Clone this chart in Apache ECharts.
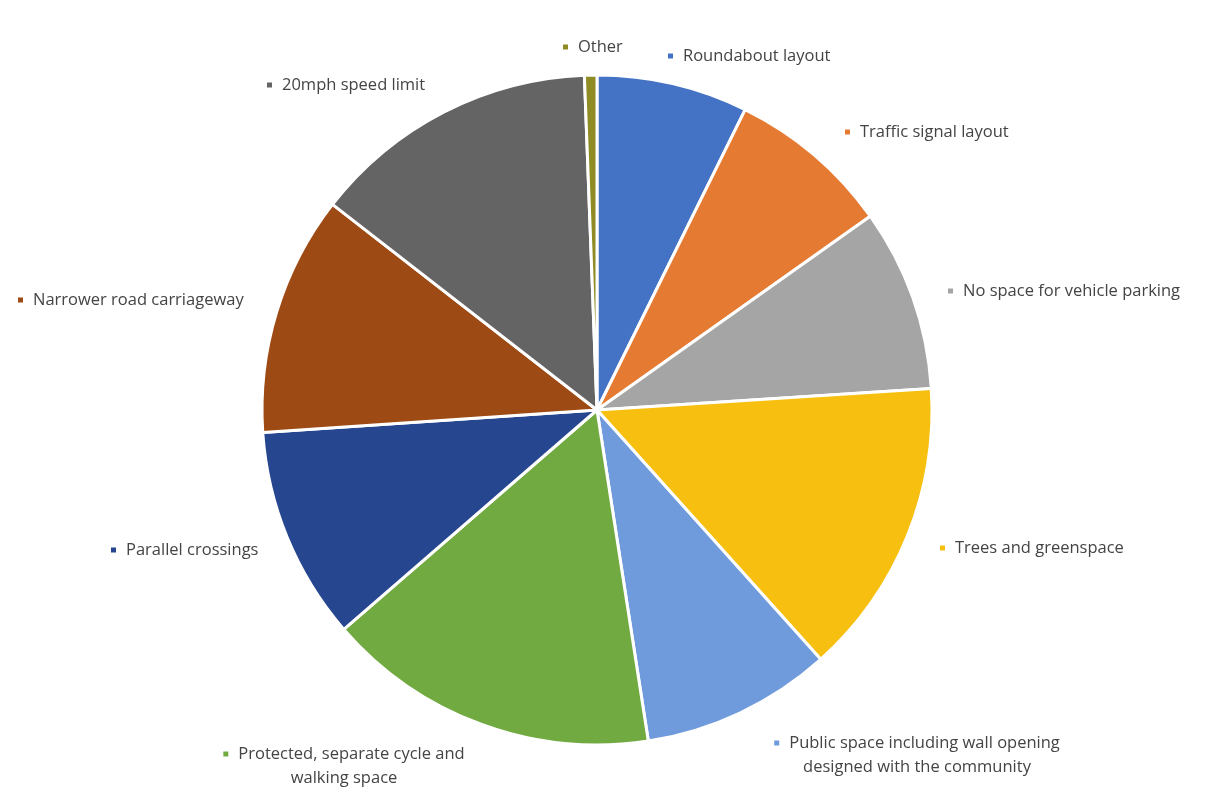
<!DOCTYPE html>
<html>
<head>
<meta charset="utf-8">
<style>
  html, body { margin: 0; padding: 0; background: #fff; }
  #chart { width: 1212px; height: 800px; }
</style>
<script src="https://cdn.jsdelivr.net/npm/echarts@6/dist/echarts.min.js"></script>
</head>
<body>
<div id="chart"></div>
<script>
// Street design features – share of responses
const categories = [
  'Roundabout layout',
  'Traffic signal layout',
  'No space for vehicle parking',
  'Trees and greenspace',
  'Public space including wall opening\ndesigned with the community',
  'Protected, separate cycle and\nwalking space',
  'Parallel crossings',
  'Narrower road carriageway',
  '20mph speed limit',
  'Other'
];
const shares = [7.3, 7.9, 8.8, 14.4, 9.2, 16.1, 10.3, 11.6, 13.9, 0.6];
const colors = [
  '#4472C4', '#E57B33', '#A5A5A5', '#F7C010', '#6F9BDC',
  '#72AA42', '#264790', '#9E4A14', '#646464', '#8F8C25'
];

// Label anchors (x, y, align) for each slice's callout
const labelSpots = [
  [668, 56, 'left'],
  [845, 132, 'left'],
  [948, 291, 'left'],
  [940, 548, 'left'],
  [917, 755, 'center'],
  [344, 766, 'center'],
  [111, 550, 'left'],
  [18, 300, 'left'],
  [267, 85, 'left'],
  [563, 47, 'left']
];

const rich = {};
colors.forEach((c, i) => {
  rich['m' + i] = { width: 5, height: 5, backgroundColor: c, align: labelSpots[i][2] };
  rich['t' + i] = {
    fontFamily: 'Open Sans', fontSize: 16.5, color: '#444', lineHeight: 24,
    align: labelSpots[i][2]
  };
});

const data = categories.map((name, i) => ({
  name: name,
  value: shares[i],
  itemStyle: { color: colors[i] }
}));

const chart = echarts.init(document.getElementById('chart'), null, { renderer: 'canvas' });
chart.setOption({
  backgroundColor: '#fff',
  animation: false,
  series: [{
    type: 'pie',
    center: [597, 410],
    radius: 335,
    startAngle: 90,
    clockwise: true,
    avoidLabelOverlap: false,
    data: data,
    itemStyle: { borderColor: '#fff', borderWidth: 3 },
    label: {
      show: true,
      position: 'outside',
      formatter: p => {
        const lines = p.name.split('\n');
        const i = p.dataIndex;
        return lines.map((l, k) =>
          (k === 0 ? '{m' + i + '|}   ' : '') + '{t' + i + '|' + l + '}'
        ).join('\n');
      },
      rich: rich
    },
    labelLine: { show: false },
    labelLayout: p => {
      const s = labelSpots[p.dataIndex];
      return { x: s[0], y: s[1], align: s[2], verticalAlign: 'middle' };
    },
    emphasis: { disabled: true }
  }]
});
</script>
</body>
</html>
